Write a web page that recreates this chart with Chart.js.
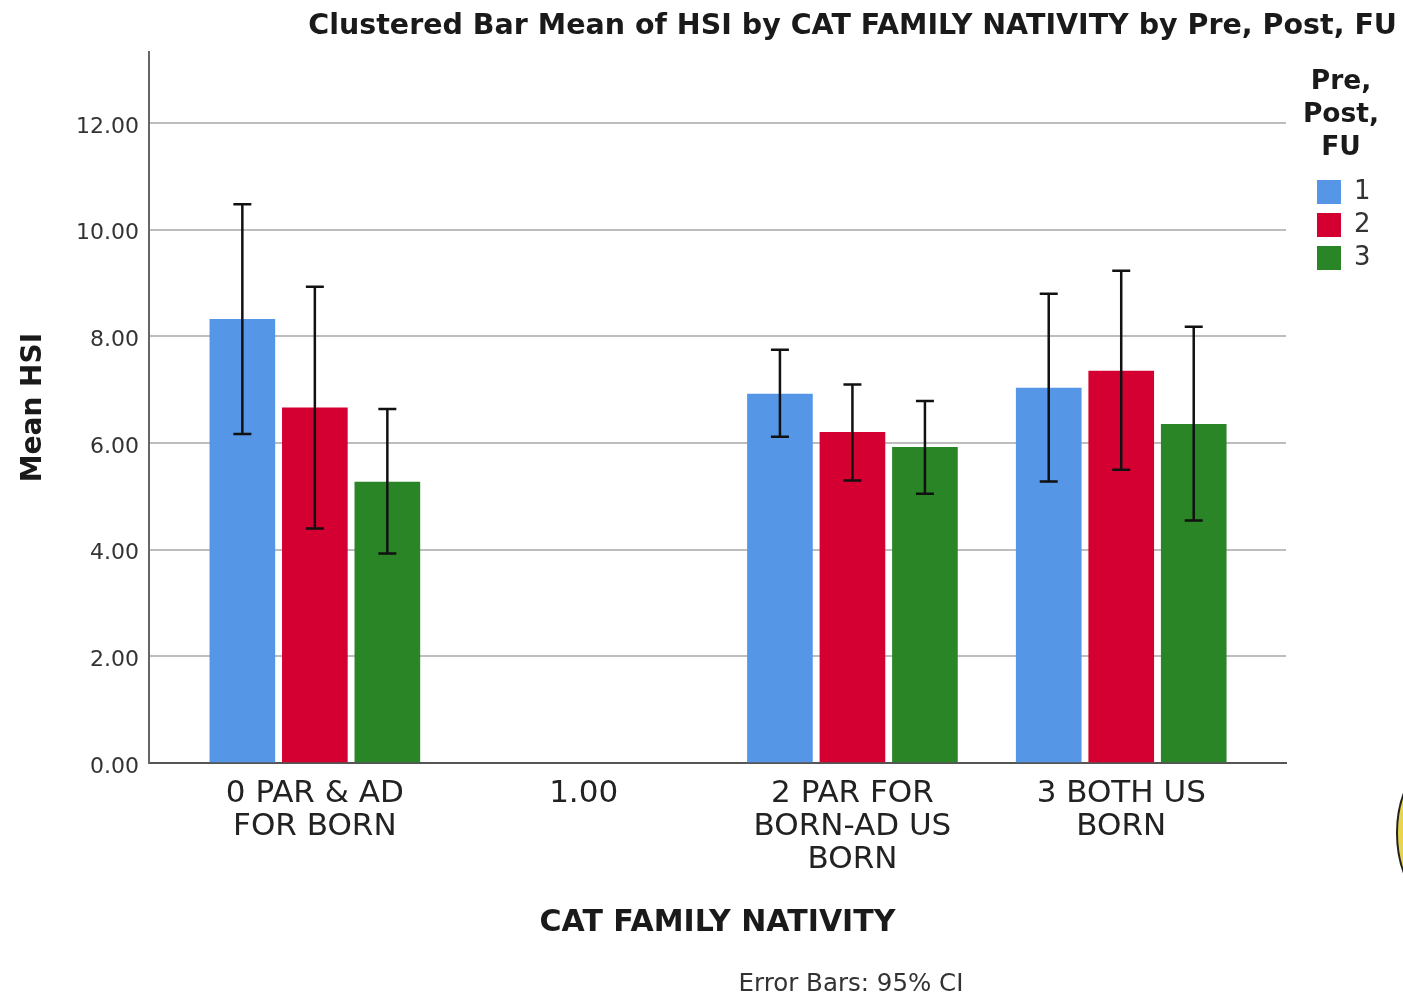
<!DOCTYPE html>
<html>
<head>
<meta charset="utf-8">
<style>html,body{margin:0;padding:0;background:#fff}#w{width:1403px;height:997px}</style>
<script src="https://cdn.jsdelivr.net/npm/chart.js@4"></script>
</head>
<body>
<div id="w"><canvas id="c" width="1403" height="997"></canvas></div>
<script>
const categories = [['0 PAR & AD','FOR BORN'],['1.00'],['2 PAR FOR','BORN-AD US','BORN'],['3 BOTH US','BORN']];
const seriesNames = ['1','2','3'];
const colors = ['#5596E6','#D50032','#2A8526'];
const series1 = [8.32,null,6.92,7.03];
const series2 = [6.66,null,6.20,7.35];
const series3 = [5.27,null,5.92,6.35];
const low1 = [6.17,null,6.12,5.28];
const high1 = [10.48,null,7.75,8.80];
const low2 = [4.40,null,5.30,5.50];
const high2 = [8.93,null,7.10,9.23];
const low3 = [3.93,null,5.05,4.55];
const high3 = [6.64,null,6.79,8.18];
const yTicks = [0,2,4,6,8,10,12];
const chartTitle = 'Clustered Bar Mean of HSI by CAT FAMILY NATIVITY by Pre, Post, FU';
const xTitle = 'CAT FAMILY NATIVITY';
const yTitle = 'Mean HSI';
const legendTitle = ['Pre,','Post,','FU'];
const caption = 'Error Bars: 95% CI';

const allSeries = [series1,series2,series3];
const lows = [low1,low2,low3];
const highs = [high1,high2,high3];
const INK = '#1a1a1a';
const FONT = '"DejaVu Sans"';

const helpers = {
  id:'helpers',
  beforeLayout(chart){
    const lg = chart.legend;
    if (!lg._wrapped){
      const f = lg.fit, d = lg.draw;
      lg.fit = function(){ f.call(this); this.width = 111; };
      lg.draw = function(){
        const ctx = this.ctx;
        ctx.clip = function(){};
        d.call(this);
        delete ctx.clip;
      };
      lg._wrapped = true;
    }
  },
  afterLayout(chart){ chart.legend.left = 1310; chart.legend.width = 62; chart.legend.right = 1372; },
  afterDatasetsDraw(chart){
    const ctx = chart.ctx, y = chart.scales.y;
    ctx.save();
    ctx.strokeStyle = '#111'; ctx.lineWidth = 2.5;
    allSeries.forEach((s,d)=>{
      const meta = chart.getDatasetMeta(d);
      s.forEach((v,i)=>{
        if (v===null) return;
        const x = meta.data[i].x, t = y.getPixelForValue(highs[d][i]), b = y.getPixelForValue(lows[d][i]);
        ctx.beginPath();
        ctx.moveTo(x,t); ctx.lineTo(x,b);
        ctx.moveTo(x-9,t); ctx.lineTo(x+9,t);
        ctx.moveTo(x-9,b); ctx.lineTo(x+9,b);
        ctx.stroke();
      });
    });
    ctx.restore();
  },
  afterDraw(chart){
    const ctx = chart.ctx;
    ctx.save();
    ctx.fillStyle = '#333'; ctx.font = '24.5px '+FONT;
    ctx.textAlign = 'center'; ctx.textBaseline = 'middle';
    ctx.fillText(caption, 851, 985);
    ctx.beginPath();
    ctx.ellipse(1457,833,60,85,0,0,Math.PI*2);
    ctx.fillStyle = '#E8D44D'; ctx.fill();
    ctx.strokeStyle = '#222'; ctx.lineWidth = 2; ctx.stroke();
    ctx.restore();
  }
};

new Chart(document.getElementById('c'),{
  type:'bar',
  data:{datasets:allSeries.map((s,d)=>({
    label:seriesNames[d],
    data:s.map((v,i)=>({x:i,y:v})),
    backgroundColor:colors[d],
    borderWidth:0,
    barThickness:72.5,
    maxBarThickness:65
  }))},
  options:{
    responsive:false,animation:false,
    layout:{padding:{left:17,right:6,top:0,bottom:51}},
    plugins:{
      tooltip:{enabled:false},
      title:{display:true,text:chartTitle,align:'end',color:INK,
        font:{family:FONT,size:28.5,weight:'bold',lineHeight:1.2},padding:{top:9,bottom:9}},
      legend:{position:'right',align:'start',
        title:{display:true,text:legendTitle,color:INK,
          font:{family:FONT,size:26.5,weight:'bold',lineHeight:33/26.5},padding:{top:69,bottom:70}},
        labels:{boxWidth:24,boxHeight:24,padding:7,color:'#333',font:{family:FONT,size:26}}
      }
    },
    scales:{
      x:{type:'linear',offset:false,min:-0.617,max:3.613,
        afterBuildTicks(a){a.ticks=categories.map((_,i)=>({value:i}));},
        afterFit(a){a.height=183;},
        grid:{display:false,offset:false},
        border:{color:'#555',width:2},
        ticks:{autoSkip:false,maxRotation:0,minRotation:0,padding:6,color:'#222',
          callback:v=>categories[v],font:{family:FONT,size:31,lineHeight:33/31}},
        title:{display:true,text:xTitle,color:INK,font:{family:FONT,size:30,weight:'bold'},padding:{top:20,bottom:5}}
      },
      y:{min:0,max:13.33,
        afterBuildTicks(a){a.ticks=yTicks.map(v=>({value:v}));},
        afterFit(a){a.width=132;},
        grid:{color:'#BDBDBD',lineWidth:2,drawTicks:false},
        border:{color:'#666',width:2},
        ticks:{padding:10,color:'#333',labelOffset:4,callback:v=>v.toFixed(2),font:{family:FONT,size:22}},
        title:{display:true,text:yTitle,color:INK,font:{family:FONT,size:28,weight:'bold'},padding:{top:0,bottom:0}}
      }
    }
  },
  plugins:[helpers]
});
</script>
</body>
</html>
